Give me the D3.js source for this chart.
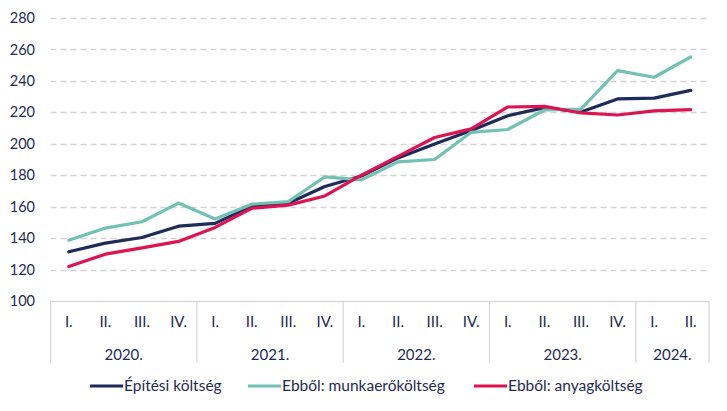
<!DOCTYPE html>
<html>
<head>
<meta charset="utf-8">
<script src="https://cdn.jsdelivr.net/npm/d3@7"></script>
<style>
  html, body { margin: 0; padding: 0; background: #fff; }
  svg { display: block; }
  text { font-family: Lato, "Open Sans", sans-serif; fill: #1f2b52; }
</style>
</head>
<body>
<svg id="chart" width="727" height="411"></svg>
<script>
const quarters = ["I.", "II.", "III.", "IV.", "I.", "II.", "III.", "IV.", "I.", "II.", "III.", "IV.", "I.", "II.", "III.", "IV.", "I.", "II."];
const years = ["2020.", "2021.", "2022.", "2023.", "2024."];
const yearSpans = [4, 4, 4, 4, 2];
const yTicks = [100, 120, 140, 160, 180, 200, 220, 240, 260, 280];

const seriesNames = ["Építési költség", "Ebből: munkaerőköltség", "Ebből: anyagköltség"];
const epitesi = [131.3, 136.8, 140.4, 147.6, 149.4, 160.4, 162.2, 172.8, 179.5, 191, 199.8, 208.4, 217.8, 223, 220.2, 228.5, 229, 234];
const munkaero = [138.7, 146.4, 150.4, 162.3, 152.1, 161.6, 163.2, 179, 177, 188.5, 190, 207.3, 209.1, 221.5, 222, 246.5, 242.3, 255.2];
const anyag = [121.9, 129.8, 133.8, 137.9, 146.8, 159, 161, 166.8, 180, 192, 204, 209.5, 223.4, 223.8, 219.6, 218.3, 220.9, 221.7];
const colors = ["#1e2c5a", "#72c1b4", "#de1351"];

const svg = d3.select("#chart");
const mLeft = 50.5, mRight = 709, mTop = 18, mBottom = 301;

const x = d3.scaleBand().domain(d3.range(quarters.length)).range([mLeft, mRight]).padding(0);
const y = d3.scaleLinear().domain([100, 280]).range([mBottom, mTop]);

// gridlines
svg.append("g").selectAll("line")
  .data(yTicks.filter(t => t > 100))
  .join("line")
  .attr("x1", mLeft).attr("x2", mRight)
  .attr("y1", d => Math.round(y(d)) + 0.5).attr("y2", d => Math.round(y(d)) + 0.5)
  .attr("stroke", "#d4d4d4").attr("stroke-width", 1.3)
  .attr("stroke-dasharray", "6,4");

// y axis labels
svg.append("g").selectAll("text")
  .data(yTicks)
  .join("text")
  .attr("x", 35).attr("y", d => y(d))
  .attr("dy", "0.35em")
  .attr("text-anchor", "end")
  .style("font-size", "14.5px")
  .text(d => d);

// category box
const boxBottom = 363;
const axisG = svg.append("g");
axisG.append("line")
  .attr("x1", mLeft).attr("x2", mRight)
  .attr("y1", mBottom + 0.5).attr("y2", mBottom + 0.5)
  .attr("stroke", "#d9d9d9").attr("stroke-width", 1.3);

let cum = 0;
const seps = [0];
yearSpans.forEach(s => { cum += s; seps.push(cum); });
axisG.selectAll("line.sep")
  .data(seps)
  .join("line")
  .attr("class", "sep")
  .attr("x1", d => d < quarters.length ? x(d) : mRight)
  .attr("x2", d => d < quarters.length ? x(d) : mRight)
  .attr("y1", mBottom).attr("y2", boxBottom)
  .attr("stroke", "#d9d9d9").attr("stroke-width", 1.3);

axisG.selectAll("text.q")
  .data(quarters)
  .join("text")
  .attr("class", "q")
  .attr("x", (d, i) => x(i) + x.bandwidth() / 2)
  .attr("y", 322)
  .attr("dy", "0.35em")
  .attr("text-anchor", "middle")
  .style("font-size", "15px")
  .text(d => d);

axisG.selectAll("text.yr")
  .data(years)
  .join("text")
  .attr("class", "yr")
  .attr("x", (d, i) => {
    const s = seps[i], e = seps[i + 1];
    const x0 = x(s), x1 = e < quarters.length ? x(e) : mRight;
    return (x0 + x1) / 2;
  })
  .attr("y", 355)
  .attr("dy", "0.35em")
  .attr("text-anchor", "middle")
  .style("font-size", "15px")
  .text(d => d);

// lines
const line = d3.line()
  .x((d, i) => x(i) + x.bandwidth() / 2)
  .y(d => y(d));

const allSeries = [epitesi, munkaero, anyag];
svg.append("g").selectAll("path")
  .data(allSeries)
  .join("path")
  .attr("d", d => line(d))
  .attr("fill", "none")
  .attr("stroke", (d, i) => colors[i])
  .attr("stroke-width", 3.2)
  .attr("stroke-linejoin", "round")
  .attr("stroke-linecap", "round");

// legend
const legendX = [90, 248, 474];
const lg = svg.append("g").selectAll("g")
  .data(seriesNames)
  .join("g")
  .attr("transform", (d, i) => `translate(${legendX[i]},386)`);
lg.append("line")
  .attr("x1", 0).attr("x2", 33)
  .attr("y1", 0).attr("y2", 0)
  .attr("stroke", (d, i) => colors[i])
  .attr("stroke-width", 3.2);
lg.append("text")
  .attr("x", 34).attr("y", 0)
  .attr("dy", "0.35em")
  .style("font-size", "15.5px")
  .text(d => d);
</script>
</body>
</html>
